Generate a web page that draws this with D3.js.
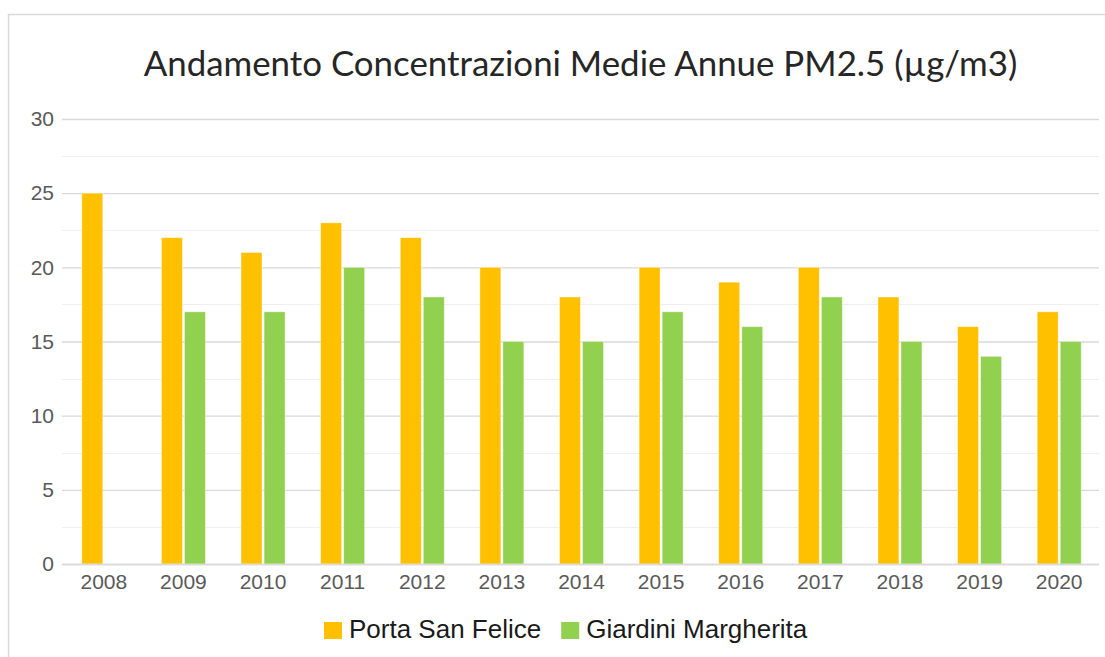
<!DOCTYPE html>
<html>
<head>
<meta charset="utf-8">
<script src="https://cdn.jsdelivr.net/npm/d3@7"></script>
<style>
  html, body { margin: 0; padding: 0; background: #fff; }
  svg { display: block; }
</style>
</head>
<body>
<svg id="chart" width="1105" height="657"></svg>
<script>
// Annual mean PM2.5 concentrations (µg/m3) by monitoring station
const years = ["2008","2009","2010","2011","2012","2013","2014","2015","2016","2017","2018","2019","2020"];
const portaSanFelice = [25, 22, 21, 23, 22, 20, 18, 20, 19, 20, 18, 16, 17];
const giardiniMargherita = [null, 17, 17, 20, 18, 15, 15, 17, 16, 18, 15, 14, 15];
const seriesNames = ["Porta San Felice", "Giardini Margherita"];
const seriesColors = ["#FFC000", "#92D050"];
const yTicks = [0, 5, 10, 15, 20, 25, 30];
const yMinorTicks = [2.5, 7.5, 12.5, 17.5, 22.5, 27.5];
const title = "Andamento Concentrazioni Medie Annue PM2.5 (µg/m3)";

const svg = d3.select("#chart");
const W = 1105, H = 657;
const plot = { left: 64, right: 1099, top: 119, bottom: 564 };

// chart frame
svg.append("path")
  .attr("d", `M8.5,${H} V14.5 H${W}`)
  .attr("fill", "none")
  .attr("stroke", "#d9d9d9")
  .attr("stroke-width", 1.5);

const series = seriesNames.map((name, i) => ({
  name, color: seriesColors[i],
  values: i === 0 ? portaSanFelice : giardiniMargherita
}));

const x0 = d3.scaleBand().domain(years).range([plot.left, plot.right]).padding(0);
const groupW = 44;
const x1 = d3.scaleBand().domain(seriesNames).range([0, groupW]).paddingInner(0.09);
const y = d3.scaleLinear().domain([0, 30]).range([plot.bottom, plot.top]);

// gridlines
svg.append("g").selectAll("line.minor").data(yMinorTicks).join("line")
  .attr("x1", 62).attr("x2", plot.right)
  .attr("y1", d => Math.round(y(d)) + 0.5).attr("y2", d => Math.round(y(d)) + 0.5)
  .attr("stroke", "#efefef").attr("stroke-width", 1.2);

const yAxis = svg.append("g")
  .attr("transform", `translate(62,0)`)
  .call(d3.axisLeft(y).tickValues(yTicks).tickSize(-(plot.right - 62)).tickPadding(8));
yAxis.select(".domain").remove();
yAxis.selectAll(".tick line").attr("stroke", "#d9d9d9").attr("stroke-width", 1.3);
yAxis.selectAll(".tick text")
  .attr("fill", "#595959")
  .style("font-family", "'Liberation Sans', Arial, sans-serif")
  .style("font-size", "21px");

// bars
const groups = svg.append("g").selectAll("g").data(years).join("g")
  .attr("transform", d => `translate(${x0(d) + (x0.bandwidth() - groupW) / 2},0)`);

groups.selectAll("rect")
  .data((d, i) => series.filter(s => s.values[i] != null).map(s => ({ s, v: s.values[i] })))
  .join("rect")
  .attr("x", d => x1(d.s.name))
  .attr("width", x1.bandwidth())
  .attr("y", d => y(d.v))
  .attr("height", d => y(0) - y(d.v))
  .attr("fill", d => d.s.color)
  .attr("stroke", "#fff")
  .attr("stroke-opacity", 0.5)
  .attr("stroke-width", 0.8);

// category axis
const xAxis = svg.append("g")
  .attr("transform", `translate(0,${plot.bottom})`)
  .call(d3.axisBottom(x0).tickSize(0).tickPadding(10));
xAxis.select(".domain").attr("stroke", "#d9d9d9").attr("stroke-width", 1.3)
  .attr("d", `M62,0.5H${plot.right}`);
xAxis.selectAll(".tick text")
  .attr("fill", "#595959")
  .style("font-family", "'Liberation Sans', Arial, sans-serif")
  .style("font-size", "21px");

// title, sized to span the plot width
const t = svg.append("text")
  .attr("x", (plot.left + plot.right) / 2 - 1)
  .attr("y", 76)
  .attr("text-anchor", "middle")
  .attr("fill", "#262626")
  .style("font-family", "Lato, 'Open Sans', sans-serif")
  .style("font-size", "30px")
  .text(title);
const tw = t.node().getComputedTextLength();
t.style("font-size", (30 * 874 / tw).toFixed(2) + "px");

// legend
const legend = svg.append("g");
let lx = 324;
series.forEach(s => {
  legend.append("rect")
    .attr("x", lx).attr("y", 622).attr("width", 18).attr("height", 17)
    .attr("fill", s.color);
  const tx = legend.append("text")
    .attr("x", lx + 25).attr("y", 638)
    .attr("fill", "#1a1a1a")
    .style("font-family", "'Liberation Sans', Arial, sans-serif")
    .style("font-size", "26px")
    .text(s.name);
  lx = lx + 25 + tx.node().getComputedTextLength() + 20;
});
</script>
</body>
</html>
